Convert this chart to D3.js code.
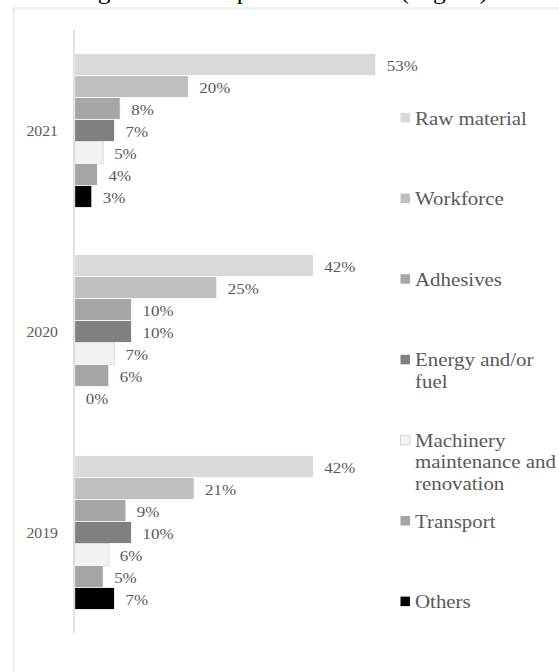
<!DOCTYPE html>
<html>
<head>
<meta charset="utf-8">
<script src="https://cdn.jsdelivr.net/npm/d3@7/dist/d3.min.js"></script>
<style>
  html, body { margin: 0; padding: 0; background: #fff; }
  svg { display: block; }
  text { font-family: "Liberation Serif", "Times New Roman", serif; }
</style>
</head>
<body>
<script>
// Cost structure per year, share of each item (%)
const years = ["2021", "2020", "2019"];
const items = ["Raw material", "Workforce", "Adhesives", "Energy and/or fuel",
               "Machinery maintenance and renovation", "Transport", "Others"];
const values2021 = [53, 20, 8, 7, 5, 4, 3];
const values2020 = [42, 25, 10, 10, 7, 6, 0];
const values2019 = [42, 21, 9, 10, 6, 5, 7];
const legendLines = [["Raw material"], ["Workforce"], ["Adhesives"], ["Energy and/or", "fuel"],
                     ["Machinery", "maintenance and", "renovation"], ["Transport"], ["Others"]];
const itemColors = ["#d9d9d9", "#bfbfbf", "#a6a6a6", "#808080", "#f2f2f2", "#a5a5a5", "#000000"];
const titleText = "Cost weight of each input in total cost (avg. %)";

const valuesByYear = { "2021": values2021, "2020": values2020, "2019": values2019 };

const W = 559, H = 672;
const SX = 1.13;              // horizontal stretch of the serif lettering
const textGrey = "#595959";

const svg = d3.select("body").append("svg")
  .attr("width", W).attr("height", H);

// stretched text helper
function label(g, x, y, str, size, anchor, fill) {
  return g.append("text")
    .attr("transform", `translate(${x},${y}) scale(${SX},1)`)
    .attr("text-anchor", anchor || "start")
    .attr("font-size", size)
    .attr("fill", fill || textGrey)
    .text(str);
}

// title (sits above the top edge, only descenders show)
label(svg, 8, -1.2, titleText, 22.5, "start", "#000");

// chart frame
svg.append("rect")
  .attr("x", 13.5).attr("y", 8.5)
  .attr("width", 620).attr("height", 720)
  .attr("fill", "none")
  .attr("stroke", "#f0f0f0")
  .attr("stroke-width", 2.5);

// scales
const axisX = 74;
const x = d3.scaleLinear().domain([0, 60]).range([axisX + 0.75, axisX + 0.75 + 5.68 * 60]);
const yYear = d3.scaleBand().domain(years).range([30, 633])
  .paddingInner(0.2338).paddingOuter(0.1169);
const yItem = d3.scaleBand().domain(items).range([0, yYear.bandwidth()]).padding(0);

const plot = svg.append("g");

years.forEach(yr => {
  const g = plot.append("g").attr("transform", `translate(0,${yYear(yr)})`);
  const vals = valuesByYear[yr];

  g.selectAll("rect")
    .data(items.map((it, i) => ({ item: it, v: vals[i], c: itemColors[i] })))
    .join("rect")
    .attr("x", x(0))
    .attr("y", d => yItem(d.item))
    .attr("width", d => x(d.v) - x(0))
    .attr("height", yItem.bandwidth())
    .attr("fill", d => d.c)
    .attr("stroke", d => d.c === "#f2f2f2" ? "#d6d6d6" : "#ffffff")
    .attr("stroke-width", d => d.v === 0 ? 0 : 0.8);

  items.forEach((it, i) => {
    label(g, x(vals[i]) + 11, yItem(it) + yItem.bandwidth() / 2 + 6.3, vals[i] + "%", 15);
  });

  // year label
  label(svg, 58, yYear(yr) + yYear.bandwidth() / 2 + 5.5, yr, 14, "end");
});

// vertical category axis line
svg.append("line")
  .attr("x1", axisX).attr("x2", axisX)
  .attr("y1", 30).attr("y2", 633)
  .attr("stroke", "#d9d9d9").attr("stroke-width", 1.5);

// legend
const legend = svg.append("g");
const legendTop = 124.5, legendStep = 80.6, lineGap = 21.5;
items.forEach((it, i) => {
  const by = legendTop + i * legendStep;
  legend.append("rect")
    .attr("x", 400.5).attr("y", by - 11.5)
    .attr("width", 9.5).attr("height", 9.5)
    .attr("fill", itemColors[i])
    .attr("stroke", itemColors[i] === "#f2f2f2" ? "#d0d0d0" : "none")
    .attr("stroke-width", 0.8);
  legendLines[i].forEach((ln, k) => {
    label(legend, 415, by + k * lineGap, ln, 18.5);
  });
});
</script>
</body>
</html>
